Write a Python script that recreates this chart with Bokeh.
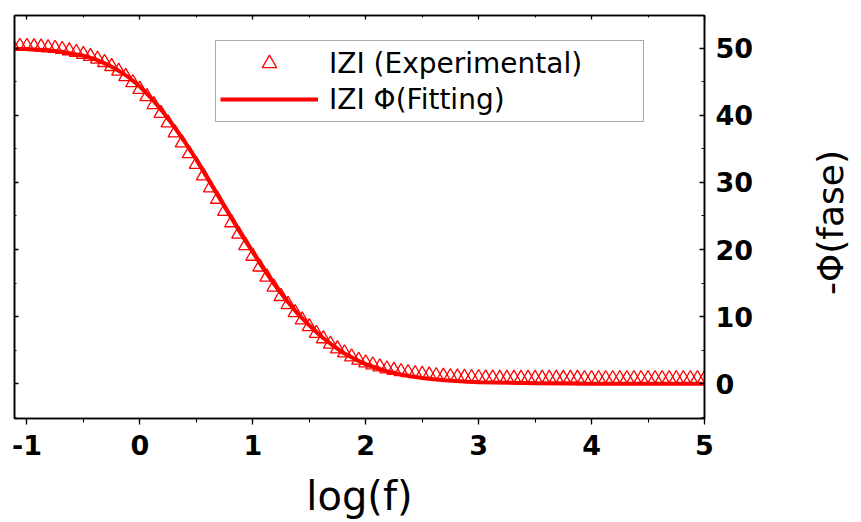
import math

from bokeh.plotting import figure
from bokeh.models import (Range1d, LinearAxis, SingleIntervalTicker, Legend,
                          LegendItem, ColumnDataSource, Label)
from bokeh.embed import file_html
from bokeh.resources import INLINE

# measured phase, -Φ in degrees, against log10 of frequency
log_f_exp = [
    -1.125, -1.0625, -1.0, -0.9375, -0.875, -0.8125, -0.75, -0.6875, -0.625, -0.5625,
    -0.5, -0.4375, -0.375, -0.3125, -0.25, -0.1875, -0.125, -0.0625, 0.0,
    0.0625, 0.125, 0.1875, 0.25, 0.3125, 0.375, 0.4375, 0.5, 0.5625, 0.625, 0.6875,
    0.75, 0.8125, 0.875, 0.9375, 1.0,
    1.0625, 1.125, 1.1875, 1.25, 1.3125, 1.375, 1.4375, 1.5, 1.5625, 1.625, 1.6875,
    1.75, 1.8125, 1.875, 1.9375, 2.0,
    2.0625, 2.125, 2.1875, 2.25, 2.3125, 2.375, 2.4375, 2.5, 2.5625, 2.625, 2.6875,
    2.75, 2.8125, 2.875, 2.9375, 3.0,
    3.0625, 3.125, 3.1875, 3.25, 3.3125, 3.375, 3.4375, 3.5, 3.5625, 3.625, 3.6875,
    3.75, 3.8125, 3.875, 3.9375, 4.0,
    4.0625, 4.125, 4.1875, 4.25, 4.3125, 4.375, 4.4375, 4.5, 4.5625, 4.625, 4.6875,
    4.75, 4.8125, 4.875, 4.9375, 5.0,
]
phase_exp = [
    50.3, 50.3, 50.3, 50.25, 50.2, 50.1, 50.0, 49.85, 49.65, 49.4,
    49.1, 48.8, 48.4, 47.9, 47.3, 46.6, 45.8, 44.9, 43.9,
    42.8, 41.6, 40.3, 38.9, 37.4, 35.9, 34.3, 32.7, 31.0, 29.2,
    27.5, 25.7, 24.0, 22.3, 20.6, 19.0,
    17.4, 15.9, 14.4, 13.0, 11.8, 10.6, 9.5, 8.5, 7.5, 6.7,
    5.9, 5.2, 4.6, 4.0, 3.5, 3.1,
    2.8, 2.5, 2.2, 2.0, 1.8, 1.65, 1.5, 1.4, 1.3, 1.2,
    1.1, 1.05, 1.0, 0.95, 0.9, 0.9,
    0.85, 0.85, 0.8, 0.8, 0.8, 0.8, 0.8, 0.8, 0.8, 0.8,
    0.8, 0.8, 0.8, 0.8, 0.75, 0.75,
    0.75, 0.75, 0.75, 0.75, 0.75, 0.75, 0.75, 0.75, 0.75, 0.75,
    0.75, 0.75, 0.75, 0.75, 0.75, 0.75,
]

# fitted model curve
log_f_fit = [
    -1.1, -1.0, -0.9, -0.8, -0.7, -0.6, -0.5, -0.4, -0.3, -0.2, -0.1,
    0.0, 0.1, 0.2, 0.3, 0.4, 0.5, 0.6, 0.7, 0.8, 0.9,
    1.0, 1.1, 1.2, 1.3, 1.4, 1.5, 1.6, 1.7, 1.8, 1.9,
    2.0, 2.1, 2.2, 2.3, 2.4, 2.5, 2.6, 2.7, 2.8, 2.9,
    3.0, 3.5, 4.0, 4.5, 5.0,
]
phase_fit = [
    49.9, 49.9, 49.8, 49.7, 49.5, 49.2, 48.9, 48.4, 47.7, 46.8, 45.7,
    44.3, 42.6, 40.6, 38.4, 36.0, 33.4, 30.6, 27.8, 25.0, 22.2,
    19.6, 17.0, 14.6, 12.4, 10.4, 8.7, 7.1, 5.8, 4.6, 3.7,
    2.9, 2.3, 1.8, 1.4, 1.1, 0.85, 0.65, 0.5, 0.38, 0.28,
    0.2, 0.05, 0.0, 0.0, 0.0,
]

x_ticks_step = 1
y_ticks_step = 10

RED = "#ff0000"
FONT = "DejaVu Sans"

src_exp = ColumnDataSource(data=dict(x=log_f_exp, y=phase_exp))
src_fit = ColumnDataSource(data=dict(x=log_f_fit, y=phase_fit))

p = figure(width=861, height=522, output_backend="svg", toolbar_location=None,
           x_range=Range1d(-1.11, 5.0), y_range=Range1d(-5.2, 54.9),
           x_axis_location=None, y_axis_location=None,
           min_border_left=14, min_border_right=157,
           min_border_top=15, min_border_bottom=104)
p.xgrid.visible = False
p.ygrid.visible = False
p.outline_line_color = "black"
p.outline_line_width = 1.5
p.background_fill_color = "white"
p.border_fill_color = "white"


def style_axis(ax, show_labels, tick_in, tick_out, minor_in, minor_out):
    ax.axis_line_color = "black"
    ax.axis_line_width = 1.6
    ax.major_tick_line_color = "black"
    ax.minor_tick_line_color = "black"
    ax.major_tick_line_width = 1.3
    ax.minor_tick_line_width = 1.1
    ax.major_tick_in = tick_in
    ax.major_tick_out = tick_out
    ax.minor_tick_in = minor_in
    ax.minor_tick_out = minor_out
    if show_labels:
        ax.major_label_text_font = FONT
        ax.major_label_text_font_style = "bold"
        ax.major_label_text_font_size = "27px"
        ax.major_label_text_color = "black"
    else:
        # tick marks only: labels are not painted
        ax.major_label_text_font_size = "1px"
        ax.major_label_text_color = None
        ax.major_label_standoff = 0


x_bottom = LinearAxis(ticker=SingleIntervalTicker(interval=x_ticks_step, num_minor_ticks=2))
style_axis(x_bottom, True, 0, 6, 0, 4)
x_bottom.major_label_standoff = 10
x_bottom.major_label_overrides = {-1: "-1"}
x_bottom.axis_label = "log(f)"
x_bottom.axis_label_text_font = FONT
x_bottom.axis_label_text_font_style = "normal"
x_bottom.axis_label_text_font_size = "40px"
x_bottom.axis_label_text_color = "black"
x_bottom.axis_label_standoff = 15
p.add_layout(x_bottom, "below")

x_top = LinearAxis(ticker=SingleIntervalTicker(interval=x_ticks_step, num_minor_ticks=2))
style_axis(x_top, False, 4, 0, 2, 0)
p.add_layout(x_top, "above")

y_right = LinearAxis(ticker=SingleIntervalTicker(interval=y_ticks_step, num_minor_ticks=2))
style_axis(y_right, True, 5, 0, 3, 0)
y_right.major_label_standoff = 11
p.add_layout(y_right, "right")

# vertical title of the phase axis, reading bottom to top
y_title = Label(text="-Φ(fase)", x=74, y=196, x_units="screen", y_units="screen",
                angle=math.pi / 2, text_align="center", text_baseline="middle",
                text_font=FONT, text_font_size="36px", text_color="black")
p.add_layout(y_title, "right")

y_left = LinearAxis(ticker=SingleIntervalTicker(interval=y_ticks_step, num_minor_ticks=2))
style_axis(y_left, False, 4, 0, 2, 0)
p.add_layout(y_left, "left")

r_exp = p.scatter("x", "y", source=src_exp, marker="triangle", size=14,
                  line_color=RED, fill_color=None, line_width=1.3)
r_fit = p.line("x", "y", source=src_fit, line_color=RED, line_width=4)

legend = Legend(
    items=[LegendItem(label="IZI (Experimental)", renderers=[r_exp]),
           LegendItem(label="IZI Φ(Fitting)", renderers=[r_fit])],
    location=(201, 296), padding=4, spacing=0, margin=0,
    glyph_height=36, glyph_width=98, label_standoff=11, label_width=310,
    label_text_font=FONT, label_text_font_size="28px", label_text_color="black",
    border_line_color="#555555", border_line_width=1.3,
    background_fill_color="white", background_fill_alpha=1.0,
)
p.add_layout(legend)

open("out.html", "w").write(file_html(p, INLINE))
